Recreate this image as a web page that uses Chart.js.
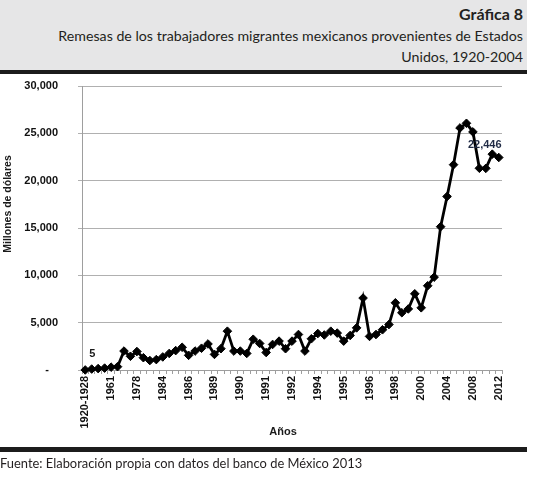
<!DOCTYPE html>
<html>
<head>
<meta charset="utf-8">
<script src="https://cdn.jsdelivr.net/npm/chart.js@4.4.0/dist/chart.umd.min.js"></script>
<style>
html,body{margin:0;padding:0;background:#fff;width:537px;height:480px;overflow:hidden;}
#wrap{position:relative;width:537px;height:480px;}
#hdr{position:absolute;left:0;top:0;width:527px;height:70px;background:#e6e6e7;}
#hbar{position:absolute;left:0;top:70px;width:527px;height:4px;background:#1c1c1c;}
#fbar{position:absolute;left:0;top:447px;width:527px;height:5px;background:#1c1c1c;}
.t{position:absolute;right:14px;font-family:'Lato','Open Sans',sans-serif;color:#231f20;white-space:nowrap;}
#t1{top:4px;font-weight:bold;font-size:16px;}
#t2{top:27px;font-size:14.2px;}
#t3{top:48px;font-size:14.2px;}
#foot{position:absolute;left:0;top:455px;font-family:'Lato','Open Sans',sans-serif;font-size:12.9px;color:#231f20;white-space:nowrap;}
#c{position:absolute;left:0;top:0;}
</style>
</head>
<body>
<div id="wrap">
  <div id="hdr"></div>
  <div id="hbar"></div>
  <div class="t" id="t1">Gráfica 8</div>
  <div class="t" id="t2">Remesas de los trabajadores migrantes mexicanos provenientes de Estados</div>
  <div class="t" id="t3">Unidos, 1920-2004</div>
  <canvas id="c" width="537" height="480"></canvas>
  <div id="fbar"></div>
  <div id="foot">Fuente: Elaboración propia con datos del banco de México 2013</div>
</div>
<script>
// Categories (only every 4th label is shown on the axis; unknown intermediate labels left blank)
const categories = [
  '1920-1928','','','','1961','','','','1978','','','','1984','','','',
  '1986','','','','1989','','','','1990','','','','1991','','','',
  '1992','','','','1994','','','','1995','','','','1996','','','',
  '1998','','','','2000','2001','2002','2003','2004','2005','2006','2007',
  '2008','2009','2010','2011','2012'
];
// Remittances, millions of US dollars
const remesas = [
  5, 100, 150, 200, 300, 350, 2000, 1450, 1950, 1300, 1000, 1100, 1380, 1750, 2050, 2400,
  1550, 2000, 2300, 2750, 1650, 2250, 4100, 2000, 2000, 1750, 3250, 2800, 1850, 2700, 3050, 2250,
  3050, 3750, 2000, 3300, 3850, 3700, 4100, 3900, 3050, 3650, 4450, 7600, 3550, 3750, 4250, 4800,
  7100, 6050, 6450, 8050, 6570, 8900, 9810, 15140, 18330, 21690, 25570, 26060,
  25150, 21310, 21300, 22800, 22446
];
const yTicks = [0, 5000, 10000, 15000, 20000, 25000, 30000];
const labeledPoints = [0, 64];
const yTitle = 'Millones de dólares';
const xTitle = 'Años';

const boldFont = {family: "'Liberation Sans', Arial, sans-serif", weight: 'bold', size: 11};

const extraText = {
  id: 'extraText',
  afterDraw(chart) {
    const ctx = chart.ctx;
    const meta = chart.getDatasetMeta(0);
    ctx.save();
    ctx.fillStyle = '#1a1a1a';
    ctx.font = "bold 10.5px 'Liberation Sans', Arial, sans-serif";
    ctx.textAlign = 'center';
    ctx.textBaseline = 'middle';
    ctx.save();
    ctx.translate(8, 204);
    ctx.rotate(-Math.PI / 2);
    ctx.fillText(yTitle, 0, 0);
    ctx.restore();
    ctx.font = "bold 11px 'Liberation Sans', Arial, sans-serif";
    ctx.fillText(xTitle, 283, 432);
    const offs = {0: [7, -16], 64: [-14, -13]};
    labeledPoints.forEach(i => {
      const p = meta.data[i];
      const o = offs[i] || [0, -12];
      ctx.fillStyle = i === 0 ? '#1a1a1a' : '#1f2a44';
      ctx.fillText(remesas[i].toLocaleString('en-US'), p.x + o[0], p.y + o[1]);
    });
    ctx.restore();
  }
};

new Chart(document.getElementById('c'), {
  type: 'line',
  data: {
    labels: categories,
    datasets: [{
      data: remesas,
      borderColor: '#000',
      borderWidth: 2.8,
      tension: 0,
      pointStyle: 'rectRot',
      pointRadius: 4.3,
      pointBackgroundColor: '#000',
      pointBorderColor: '#000',
      pointBorderWidth: 1,
      clip: false
    }]
  },
  options: {
    responsive: false,
    animation: false,
    devicePixelRatio: 1,
    layout: {padding: {left: 24, right: 35, top: 86, bottom: 50}},
    plugins: {legend: {display: false}, tooltip: {enabled: false}},
    scales: {
      x: {
        offset: true,
        grid: {display: true, drawOnChartArea: false, drawTicks: true, tickLength: 4, color: '#9e9e9e', offset: true},
        border: {display: true, color: '#9e9e9e', width: 1},
        ticks: {
          autoSkip: false, maxRotation: 90, minRotation: 90, padding: 2,
          font: boldFont, color: '#111',
          callback: (v, i) => (i % 4 === 0 ? categories[i] : '')
        },
        afterFit: s => { s.height = 60; }
      },
      y: {
        min: 0, max: 30000,
        afterBuildTicks: s => { s.ticks = yTicks.map(v => ({value: v})); },
        grid: {color: '#b0b0b0', tickLength: 4, drawTicks: true},
        border: {display: true, color: '#9e9e9e', width: 1},
        ticks: {
          padding: 20, font: boldFont, color: '#111',
          callback: v => (v === 0 ? '-   ' : v.toLocaleString('en-US'))
        },
        afterFit: s => { s.width = 58; }
      }
    }
  },
  plugins: [extraText]
});
</script>
</body>
</html>
